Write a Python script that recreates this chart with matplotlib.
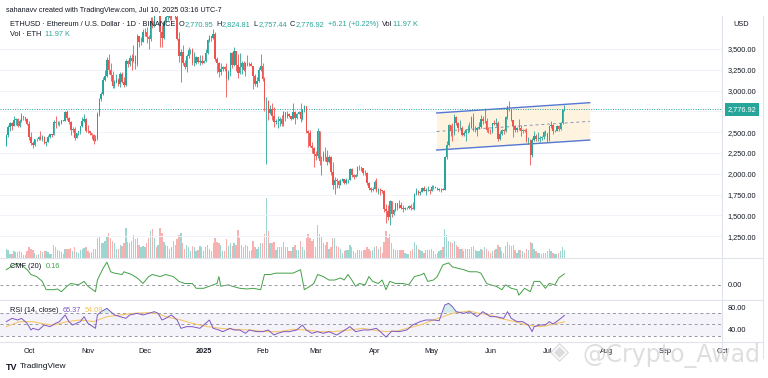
import numpy as np
import matplotlib.pyplot as plt
from matplotlib.lines import Line2D
from datetime import date

plt.rcParams['font.family'] = ['Liberation Sans', 'DejaVu Sans']

# ---------------------------------------------------------------
# data: ETHUSD daily candles, 19 Sep 2024 .. 10 Jul 2025
# ---------------------------------------------------------------
start = date(2024, 9, 19)
first_open = 2340

closes = [
    2465, 2560, 2613, 2580, 2646, 2653, 2580, 2632, 2695, 2677, 2657, 2602,  # sep
    2448, 2365, 2350, 2415, 2414, 2440, 2422, 2440, 2370, 2385, 2437, 2475, 2467, 2628, 2605, 2610,
    2605, 2645, 2640, 2747, 2667, 2621, 2525, 2535, 2434, 2485, 2510, 2570, 2638, 2660, 2520,  # oct
    2513, 2490, 2462, 2400, 2421, 2720, 2895, 2962, 3125, 3180, 3370, 3245, 3188, 3060, 3108,
    3130, 3075, 3204, 3106, 3070, 3355, 3326, 3395, 3360, 3414, 3325, 3655, 3580, 3590, 3705,  # nov
    3705, 3640, 3620, 3835, 3785, 4000, 3995, 4005, 3705, 3630, 3830, 3880, 3905, 3875, 3960, 3985,
    3880, 3620, 3420, 3470, 3335, 3285, 3420, 3490, 3490, 3330, 3330, 3400, 3350, 3360, 3335,  # dec
    3355, 3455, 3610, 3660, 3630, 3685, 3380, 3330, 3220, 3265, 3285, 3265, 3140, 3225, 3450, 3310,
    3475, 3310, 3215, 3280, 3330, 3245, 3335, 3310, 3320, 3300, 3180, 3080, 3115, 3250, 3300,  # jan
    3135, 2870, 2880, 2730, 2785, 2690, 2620, 2630, 2630, 2660, 2600, 2740, 2680, 2720,
    2690, 2660, 2745, 2670, 2720, 2740, 2660, 2765, 2815, 2510, 2490, 2340, 2305, 2235,  # feb
    2220, 2520, 2150, 2170, 2240, 2200, 2140, 2200, 2020, 1865, 1920, 1910, 1865, 1910, 1935, 1885,
    1925, 1930, 2055, 1985, 1965, 1985, 2085, 2080, 2065, 2010, 2005, 1895, 1825, 1805, 1820,  # mar
    1905, 1795, 1815, 1805, 1795, 1580, 1555, 1475, 1670, 1520, 1570, 1645, 1595, 1625, 1590,
    1580, 1585, 1585, 1615, 1585, 1580, 1755, 1795, 1770, 1785, 1825, 1795, 1800, 1800, 1795,  # apr
    1840, 1840, 1835, 1810, 1815, 1815, 1810, 2205, 2345, 2585, 2510, 2490, 2680, 2610, 2545, 2545,
    2470, 2495, 2525, 2525, 2550, 2665, 2525, 2530, 2545, 2560, 2660, 2630, 2635, 2530, 2525,  # may
    2510, 2605, 2595, 2610, 2420, 2475, 2525, 2510, 2680, 2815, 2770, 2645, 2580, 2525, 2545,
    2550, 2510, 2525, 2520, 2410, 2410, 2230, 2410, 2450, 2420, 2420, 2425, 2440, 2500, 2485,  # jun
    2405, 2570, 2590, 2510, 2520, 2570, 2540, 2615, 2770.95, 2776.92,  # jul
]

highs = [
    2480, 2590, 2620, 2620, 2700, 2670, 2670, 2660, 2725, 2700, 2680, 2670,
    2640, 2500, 2400, 2420, 2425, 2450, 2520, 2470, 2460, 2400, 2470, 2480, 2480, 2650, 2690, 2640,
    2630, 2650, 2650, 2760, 2770, 2680, 2630, 2560, 2560, 2490, 2520, 2580, 2680, 2720, 2670,
    2590, 2520, 2490, 2480, 2470, 2740, 2910, 2980, 3160, 3250, 3400, 3440, 3330, 3240, 3130,
    3200, 3150, 3220, 3220, 3160, 3380, 3370, 3430, 3440, 3550, 3430, 3680, 3660, 3640, 3735,
    3750, 3760, 3670, 3880, 3890, 4090, 4020, 4020, 4010, 3790, 3850, 3990, 3950, 3940, 3970, 4100,
    4050, 3910, 3700, 3500, 3550, 3370, 3440, 3530, 3500, 3510, 3460, 3420, 3410, 3430, 3430,
    3370, 3500, 3620, 3670, 3660, 3745, 3700, 3410, 3340, 3330, 3300, 3300, 3330, 3250, 3470, 3460,
    3520, 3480, 3440, 3450, 3360, 3360, 3350, 3430, 3350, 3350, 3300, 3200, 3160, 3280, 3440,
    3330, 3160, 2920, 2890, 2830, 2850, 2800, 2660, 2700, 2680, 2710, 2750, 2740, 2750,
    2730, 2700, 2850, 2760, 2730, 2760, 2850, 2770, 2830, 2820, 2530, 2530, 2380, 2320,
    2270, 2550, 2520, 2210, 2280, 2320, 2290, 2230, 2210, 2140, 1960, 1950, 1920, 1940, 1950, 1940,
    1950, 1940, 2070, 2070, 2000, 2000, 2090, 2100, 2080, 2070, 2040, 2020, 1900, 1840, 1840,
    1920, 1950, 1830, 1830, 1810, 1810, 1640, 1620, 1690, 1670, 1580, 1650, 1650, 1690, 1660,
    1620, 1600, 1600, 1620, 1640, 1660, 1765, 1830, 1800, 1790, 1840, 1850, 1830, 1850, 1820,
    1870, 1860, 1850, 1840, 1830, 1830, 1830, 2210, 2390, 2600, 2590, 2610, 2720, 2700, 2620, 2650,
    2570, 2520, 2540, 2590, 2620, 2700, 2730, 2570, 2560, 2620, 2710, 2700, 2790, 2670, 2560,
    2540, 2610, 2650, 2670, 2640, 2510, 2540, 2540, 2690, 2820, 2880, 2780, 2650, 2590, 2560,
    2660, 2590, 2540, 2540, 2550, 2440, 2420, 2430, 2510, 2480, 2500, 2450, 2450, 2510, 2530,
    2490, 2580, 2640, 2600, 2530, 2590, 2590, 2620, 2780, 2824.81,
]

lows = [
    2330, 2440, 2520, 2530, 2580, 2590, 2560, 2560, 2620, 2650, 2640, 2590,
    2410, 2350, 2310, 2340, 2395, 2405, 2410, 2400, 2360, 2330, 2380, 2430, 2440, 2465, 2550, 2590,
    2580, 2600, 2630, 2640, 2650, 2600, 2470, 2500, 2410, 2430, 2470, 2480, 2560, 2620, 2500,
    2490, 2470, 2420, 2360, 2390, 2410, 2700, 2870, 2950, 3110, 3160, 3200, 3120, 3030, 3030,
    3090, 3050, 3040, 3090, 3040, 3050, 3280, 3290, 3250, 3350, 3260, 3300, 3530, 3550, 3580,
    3660, 3570, 3500, 3600, 3750, 3770, 3960, 3930, 3520, 3520, 3620, 3820, 3850, 3850, 3850, 3920,
    3860, 3610, 3350, 3100, 3310, 3260, 3220, 3390, 3440, 3310, 3300, 3320, 3330, 3310, 3320,
    3330, 3350, 3440, 3590, 3600, 3620, 3360, 3210, 3160, 3190, 3240, 3230, 2920, 3130, 3180, 3270,
    3300, 3240, 3150, 3200, 3200, 3230, 3180, 3290, 3290, 3290, 3020, 3060, 3040, 3100, 3240,
    3120, 2760, 2120, 2650, 2720, 2650, 2560, 2600, 2550, 2580, 2580, 2570, 2640, 2670,
    2680, 2650, 2660, 2600, 2660, 2720, 2620, 2650, 2740, 2490, 2320, 2320, 2250, 2080,
    2170, 2190, 2110, 1990, 2160, 2160, 2110, 2130, 1990, 1820, 1760, 1830, 1830, 1860, 1910, 1880,
    1880, 1890, 1920, 1960, 1940, 1960, 1970, 2050, 2030, 1990, 1990, 1870, 1810, 1780, 1790,
    1820, 1780, 1760, 1750, 1770, 1540, 1410, 1450, 1390, 1480, 1505, 1555, 1570, 1590, 1580,
    1540, 1560, 1575, 1580, 1560, 1575, 1570, 1750, 1740, 1740, 1780, 1790, 1740, 1790, 1760,
    1790, 1820, 1830, 1800, 1790, 1780, 1800, 1805, 2180, 2340, 2460, 2400, 2470, 2590, 2500, 2540,
    2450, 2450, 2400, 2490, 2500, 2550, 2520, 2500, 2460, 2540, 2550, 2600, 2610, 2500, 2490,
    2480, 2490, 2590, 2580, 2390, 2410, 2470, 2480, 2500, 2660, 2750, 2640, 2440, 2500, 2500,
    2530, 2460, 2490, 2500, 2380, 2360, 2110, 2200, 2390, 2390, 2400, 2380, 2410, 2420, 2460,
    2380, 2400, 2550, 2480, 2500, 2510, 2520, 2530, 2600, 2757.44,
]

# volume in thousands of ETH
volumes = [
    14, 12, 6, 6, 10, 9, 9, 10, 9, 5, 5, 10,
    17, 14, 12, 8, 5, 6, 10, 9, 10, 11, 9, 6, 6, 19, 16, 12, 10, 9, 6, 13,
    14, 13, 15, 10, 17, 9, 7, 12, 14, 15, 16,
    11, 8, 9, 13, 14, 30, 32, 22, 22, 25, 33, 38, 30, 26, 22, 14, 14, 20, 18, 22,
    45, 24, 22, 26, 34, 28, 30, 20, 16, 18,
    16, 22, 30, 40, 44, 30, 16, 20, 45, 38, 24, 20, 18, 14, 16, 26, 20, 28, 34, 38,
    22, 14, 20, 16, 10, 18, 16, 10, 12, 18, 16,
    10, 16, 20, 14, 10, 22, 30, 24, 22, 20, 10, 10, 28, 18, 22, 18, 22, 20, 42, 30,
    20, 16, 20, 18, 10, 12, 26, 16, 14, 16, 22,
    22, 36, 90, 40, 22, 22, 24, 12, 16, 16, 16, 24, 16, 16, 10, 10, 16, 20, 12, 12,
    26, 16, 12, 30, 36, 30, 26, 28,
    16, 50, 36, 32, 22, 20, 24, 14, 16, 30, 30, 18, 16, 14, 8, 10, 12, 12, 20, 16,
    10, 8, 12, 12, 10, 12, 12, 16, 14, 10, 12,
    16, 18, 14, 16, 8, 24, 40, 30, 36, 22, 14, 12, 12, 12, 12, 12, 8, 6, 6, 10,
    14, 24, 20, 14, 12, 10, 8, 12, 12, 12,
    14, 10, 6, 8, 10, 12, 16, 44, 34, 26, 24, 22, 26, 20, 16, 14, 14, 10, 14, 14,
    14, 16, 18, 12, 10, 10, 14, 12, 16, 14, 10,
    8, 10, 12, 14, 20, 16, 10, 8, 18, 24, 20, 18, 20, 12, 8, 12, 12, 10, 8, 14,
    12, 24, 22, 14, 10, 8, 8, 6, 8, 8,
    10, 14, 10, 8, 6, 6, 8, 10, 16, 11.97,
]

# CMF(20): (day offset from start, value)
cmf_points = [
    (0, 0.22), (4, 0.29), (6, 0.31), (8, 0.29), (11, 0.22), (13, 0.15), (16, 0.12), (19, 0.05),
    (21, -0.07), (25, -0.07), (27, -0.06), (29, -0.10), (32, -0.02), (34, 0.02), (38, 0.0),
    (41, 0.05), (43, -0.02), (47, -0.10), (48, 0.07), (51, 0.24), (53, 0.33), (55, 0.19),
    (57, 0.17), (61, 0.15), (62, 0.19), (66, 0.15), (69, 0.10), (72, 0.02), (75, 0.12),
    (77, 0.15), (81, 0.12), (84, 0.15), (88, 0.12), (91, 0.05), (94, 0.02), (98, 0.02),
    (100, -0.05), (104, -0.05), (107, -0.02), (111, 0.02), (112, 0.12), (113, -0.02),
    (117, 0.0), (119, -0.02), (123, -0.05), (127, -0.06), (130, -0.05), (134, -0.07),
    (136, 0.15), (139, 0.15), (142, 0.17), (148, 0.17), (151, 0.17), (155, 0.22),
    (157, -0.07), (160, -0.02), (162, 0.02), (164, 0.15), (167, 0.12), (170, 0.07),
    (173, 0.07), (176, 0.10), (178, 0.07), (180, 0.15), (182, 0.07), (184, -0.02),
    (186, 0.02), (189, 0.0), (191, 0.12), (193, 0.05), (196, 0.02), (198, 0.07),
    (200, -0.07), (202, 0.05), (205, 0.02), (209, 0.02), (212, 0.0), (215, 0.12),
    (219, 0.15), (220, 0.17), (222, 0.05), (225, 0.07), (227, 0.12), (230, 0.29),
    (233, 0.32), (235, 0.26), (238, 0.24), (241, 0.22), (244, 0.19), (248, 0.19),
    (250, 0.17), (253, 0.02), (255, 0.0), (258, -0.02), (261, -0.07), (263, 0.0),
    (266, -0.05), (269, -0.07), (270, -0.15), (273, -0.05), (276, -0.10), (278, 0.05),
    (281, 0.05), (284, -0.05), (286, 0.02), (289, 0.0), (291, 0.10), (294, 0.16),
]

# RSI(14) and its moving average
rsi_points = [
    (0, 54.5), (3, 60.3), (6, 57.4), (8, 60.3), (11, 51.6), (13, 40), (14, 42.9), (17, 40),
    (20, 48.7), (23, 45.8), (26, 51.6), (28, 54.5), (31, 66.1), (33, 54.5), (35, 48.7),
    (39, 54.5), (41, 63.2), (43, 51.6), (47, 42.9), (48, 66.1), (50, 71.9), (53, 77.7),
    (55, 71.9), (57, 66.1), (60, 63.2), (63, 60.3), (65, 66.1), (69, 69), (72, 66.1),
    (75, 69), (78, 71.9), (80, 69), (82, 57.4), (84, 60.3), (87, 66.1), (90, 57.4),
    (92, 42.9), (95, 45.8), (98, 45.8), (102, 42.9), (106, 54.5), (107, 57.4), (109, 42.9),
    (112, 40), (114, 37.1), (118, 42.9), (120, 40), (123, 40), (126, 34.2), (128, 40),
    (132, 37.1), (135, 37.1), (138, 40), (141, 31.3), (143, 34.2), (146, 37.1), (149, 37.1),
    (153, 40), (156, 48.7), (158, 40), (161, 34.2), (164, 37.1), (167, 34.2), (170, 37.1),
    (174, 31.3), (177, 37.1), (181, 45.8), (184, 37.1), (188, 40), (191, 40), (195, 42.9),
    (198, 34.2), (200, 27.5), (203, 38), (207, 37.1), (211, 40), (214, 48.7), (218, 54.5),
    (221, 57.4), (225, 57.4), (228, 56.2), (231, 83.5), (233, 86.4), (235, 80.6), (237, 71.9),
    (241, 69), (244, 71.9), (248, 63.2), (251, 71.9), (255, 63.2), (258, 63.2), (262, 60.3),
    (264, 71.9), (266, 60.3), (269, 54.5), (272, 54.5), (275, 48.7), (277, 37.1), (278, 45.8),
    (281, 48.7), (284, 48.7), (286, 54.5), (288, 50.4), (291, 57.4), (294, 65.37),
]
rsi_ma_points = [
    (0, 45.8), (7, 54.5), (14, 54.5), (20, 50.4), (25, 48.7), (32, 54.5), (39, 57.4),
    (46, 54.5), (53, 63.2), (60, 66.1), (67, 69), (74, 70.1), (79, 69), (84, 63.2),
    (92, 57.4), (98, 51.6), (106, 45.8), (113, 42.9), (120, 41.2), (128, 40), (137, 37.1),
    (144, 37.1), (151, 41.2), (158, 40), (165, 37.1), (172, 37.1), (181, 40), (188, 42.9),
    (193, 40), (200, 37.1), (206, 38.5), (211, 42.9), (218, 48.7), (225, 57.4), (230, 63.2),
    (235, 69), (241, 71.9), (244, 73), (249, 69), (255, 66.1), (260, 60.3), (268, 54.5),
    (274, 48.7), (281, 45.8), (284, 47), (290, 51.6), (294, 54.09),
]

# parallel channel drawing (anchor day offsets, upper and lower prices)
channel_days = [226.7, 307.3]
channel_upper = [2731, 2855]
channel_lower = [2286, 2406]

price_ticks = [1250, 1500, 1750, 2000, 2250, 2500, 2750, 3000, 3250, 3500]
month_labels = ['Oct', 'Nov', 'Dec', '2025', 'Feb', 'Mar', 'Apr', 'May', 'Jun', 'Jul', 'Aug', 'Sep', 'Oct']
month_dates = [date(2024, 10, 1), date(2024, 11, 1), date(2024, 12, 1), date(2025, 1, 1),
               date(2025, 2, 1), date(2025, 3, 1), date(2025, 4, 1), date(2025, 5, 1),
               date(2025, 6, 1), date(2025, 7, 1), date(2025, 8, 1), date(2025, 9, 1),
               date(2025, 10, 1)]

UP = '#26a69a'
DOWN = '#ef5350'
TXT = '#131722'
LINE = '#e0e3eb'
FS = 5.3
W, H = 768, 378


def fx(px):
    return px / W


def fy(py):
    return 1 - py / H


def chain(fig, x0, y, parts, size=FS):
    # write text pieces one after another, measuring each one
    renderer = fig.canvas.get_renderer()
    x = x0
    for s, col, gap in parts:
        t = fig.text(fx(x), fy(y), s, fontsize=size, color=col, va='center')
        x += t.get_window_extent(renderer).width + gap


def main():
    c = np.array(closes, dtype=float)
    o = np.array([first_open] + closes[:-1], dtype=float)
    hi = np.maximum(np.array(highs, dtype=float), np.maximum(o, c))
    lo = np.minimum(np.array(lows, dtype=float), np.minimum(o, c))
    x = np.arange(len(c))
    colors = np.where(c >= o, UP, DOWN)

    fig = plt.figure(figsize=(W / 100, H / 100), dpi=100)
    fig.patch.set_facecolor('white')

    ax_p = fig.add_axes([0, fy(258), fx(722), (258 - 16) / H])
    ax_c = fig.add_axes([0, fy(300), fx(722), 42 / H], sharex=ax_p)
    ax_r = fig.add_axes([0, fy(342), fx(722), 42 / H], sharex=ax_p)

    # volume underneath candles
    ax_v = ax_p.twinx()
    ax_v.bar(x, volumes, width=0.7, color=colors, alpha=0.45, linewidth=0)
    ax_v.set_ylim(0, 363)
    ax_v.set_yticks([])
    ax_p.set_zorder(ax_v.get_zorder() + 1)
    ax_p.patch.set_visible(False)

    # price grid
    for t in price_ticks:
        ax_p.axhline(t, color='#f0f3fa', lw=0.7, zorder=0)

    # channel
    cd = np.array(channel_days)
    cu = np.array(channel_upper, dtype=float)
    cl = np.array(channel_lower, dtype=float)
    ax_p.fill_between(cd, cl, cu, color='#fdf3de', lw=0, zorder=1)
    ax_p.plot(cd, cu, color='#5677d4', lw=1.0, zorder=2)
    ax_p.plot(cd, cl, color='#5677d4', lw=1.0, zorder=2)
    ax_p.plot(cd, (cu + cl) / 2, color='#8a94b8', lw=0.7, ls=(0, (3, 3)), zorder=2)

    # candles
    ax_p.vlines(x, lo, hi, colors=colors, lw=0.6, zorder=3)
    body = np.maximum(np.abs(c - o), 4)
    ax_p.bar(x, body, bottom=np.minimum(o, c), width=0.75, color=colors, linewidth=0, zorder=4)

    # last price line + tag
    ax_p.axhline(c[-1], color=UP, lw=0.7, ls=(0, (1, 1.5)), zorder=2)
    ax_p.annotate(f'{c[-1]:,.2f}', xy=(1.0, c[-1]), xycoords=('axes fraction', 'data'),
                  xytext=(20, 0), textcoords='offset pixels', ha='center', va='center',
                  fontsize=FS, color='white', annotation_clip=False,
                  bbox=dict(boxstyle='square,pad=0.4', fc=UP, ec='none'))

    ax_p.set_ylim(988, 3897)
    ax_p.yaxis.tick_right()
    ax_p.set_yticks(price_ticks)
    ax_p.set_yticklabels([f'{t:,.2f}' for t in price_ticks])

    # CMF pane
    cmf_d = [p[0] for p in cmf_points]
    cmf_v = [p[1] for p in cmf_points]
    ax_c.plot(cmf_d, cmf_v, color='#43a047', lw=0.7)
    ax_c.axhline(0, color='#9598a1', lw=0.7, ls=(0, (3, 3)))
    ax_c.set_ylim(-0.22, 0.39)
    ax_c.yaxis.tick_right()
    ax_c.set_yticks([0])
    ax_c.set_yticklabels(['0.00'])

    # RSI pane
    rsi_d = np.array([p[0] for p in rsi_points], dtype=float)
    rsi_v = np.array([p[1] for p in rsi_points])
    ax_r.axhspan(30, 70, color='#7e57c2', alpha=0.07, lw=0)
    for lvl in (70, 50, 30):
        ax_r.axhline(lvl, color='#9598a1', lw=0.7, ls=(0, (3, 3)))
    ax_r.fill_between(rsi_d, rsi_v, 70, where=rsi_v > 70, interpolate=True,
                      color='#26a69a', alpha=0.2, lw=0)
    ax_r.plot([p[0] for p in rsi_ma_points], [p[1] for p in rsi_ma_points],
              color='#f5c86a', lw=0.8)
    ax_r.plot(rsi_d, rsi_v, color='#7e57c2', lw=0.7)
    ax_r.set_ylim(19.1, 92.2)
    ax_r.yaxis.tick_right()
    ax_r.set_yticks([40, 80])
    ax_r.set_yticklabels(['40.00', '80.00'])

    # x axis
    ax_r.set_xlim(-3.3, 376.7)
    ticks = [(d - start).days for d in month_dates]
    ax_r.set_xticks(ticks)
    ax_r.set_xticklabels(month_labels)
    for lab in ax_r.get_xticklabels():
        if lab.get_text() == '2025':
            lab.set_fontweight('bold')

    for ax in (ax_p, ax_c, ax_r):
        for s in ax.spines.values():
            s.set_visible(False)
        ax.tick_params(axis='y', length=0, pad=4, labelsize=FS, labelcolor=TXT)
        ax.tick_params(axis='x', length=0, pad=4, labelsize=FS, labelcolor=TXT)
        ax.set_facecolor('none')
    for s in ax_v.spines.values():
        s.set_visible(False)
    ax_p.tick_params(axis='x', labelbottom=False)
    ax_c.tick_params(axis='x', labelbottom=False)

    # pane separators
    for py in (258, 300, 342):
        fig.add_artist(Line2D([0, fx(763)], [fy(py), fy(py)], color=LINE, lw=0.8))
    fig.add_artist(Line2D([fx(722), fx(722)], [fy(16), fy(358)], color=LINE, lw=0.8))
    fig.add_artist(Line2D([fx(763), fx(763)], [fy(16), fy(358)], color=LINE, lw=0.8))

    # header / legends
    fig.text(fx(6), fy(10), 'sahanavv created with TradingView.com, Jul 10, 2025 03:16 UTC-7',
             fontsize=5.2, color=TXT, va='center')
    chain(fig, 10, 25, [('ETHUSD · Ethereum / U.S. Dollar · 1D · BINANCE', TXT, 3),
                        ('O', TXT, 0.5), ('2,770.95', UP, 3),
                        ('H', TXT, 0.5), ('2,824.81', UP, 3),
                        ('L', TXT, 0.5), ('2,757.44', UP, 3),
                        ('C', TXT, 0.5), ('2,776.92', UP, 3),
                        ('+6.21 (+0.22%)', UP, 4),
                        ('Vol', TXT, 0.5), ('11.97 K', UP, 0)])
    chain(fig, 10, 34, [('Vol · ETH', TXT, 4), ('11.97 K', UP, 0)])
    fig.text(fx(733), fy(25), 'USD', fontsize=FS, color=TXT, va='center')

    chain(fig, 10, 267, [('CMF (20)', TXT, 4), ('0.16', '#43a047', 0)])
    chain(fig, 10, 311, [('RSI (14, close)', TXT, 4), ('65.37', '#7e57c2', 4),
                         ('54.09', '#f2c14e', 0)])

    # footer logo + watermark
    fig.text(fx(6), fy(367), 'TV', fontsize=6.5, color=TXT, fontweight='bold', va='center')
    fig.text(fx(20), fy(367), 'TradingView', fontsize=6, color=TXT, va='center')
    fig.text(fx(560), fy(352), '◈', fontsize=18, color='#d4d4d4', alpha=0.8,
             ha='center', va='center', family='DejaVu Sans')
    fig.text(fx(672), fy(355), '@Crypto_Awad', fontsize=17, color='#d4d4d4', alpha=0.75,
             ha='center', va='center', family='DejaVu Sans')

    fig.savefig('out.png', dpi=100)


if __name__ == '__main__':
    main()
